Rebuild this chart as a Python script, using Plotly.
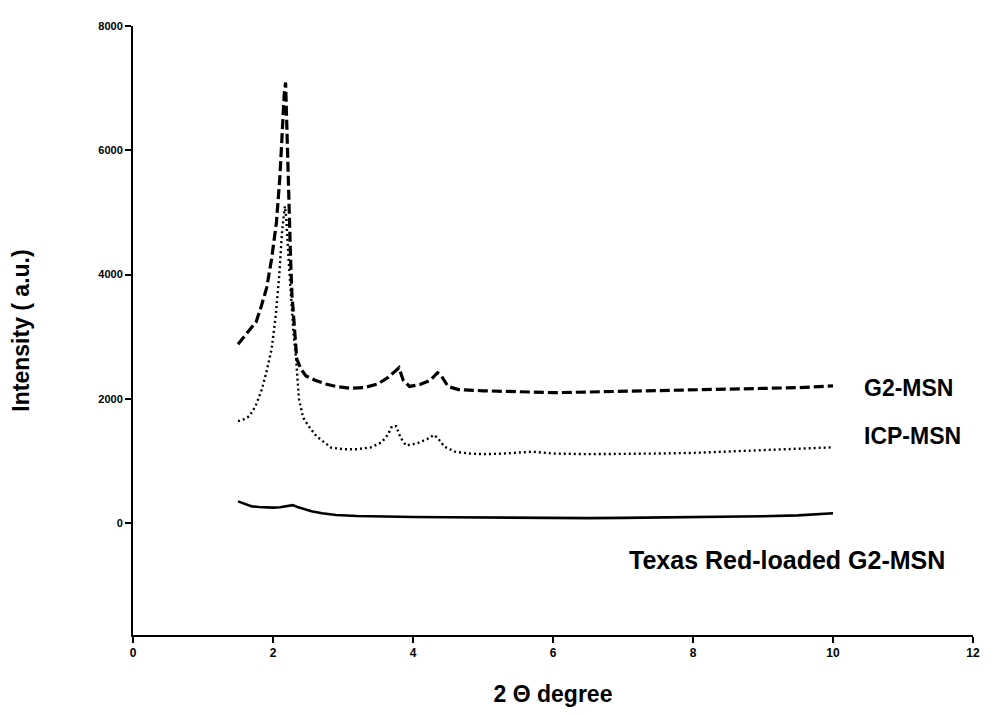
import plotly.graph_objects as go

# ---- data ----
g2_x = [1.50, 1.55, 1.62, 1.70, 1.76, 1.83, 1.91, 1.98, 2.05, 2.10, 2.13, 2.16, 2.18, 2.20, 2.22, 2.25, 2.27, 2.31, 2.34, 2.40, 2.47, 2.60, 2.75, 2.90, 3.10, 3.30, 3.50, 3.65, 3.75, 3.80, 3.86, 3.95, 4.10, 4.25, 4.35, 4.40, 4.50, 4.65, 5.00, 5.50, 6.00, 6.50, 7.00, 7.50, 8.00, 8.50, 9.00, 9.50, 10.00]
g2_y = [2880, 2950, 3060, 3170, 3240, 3480, 3790, 4250, 4850, 5600, 6310, 6900, 7090, 6300, 5200, 4300, 3690, 3000, 2640, 2480, 2370, 2300, 2240, 2200, 2170, 2180, 2240, 2350, 2450, 2500, 2300, 2200, 2230, 2300, 2420, 2380, 2200, 2150, 2130, 2120, 2100, 2110, 2120, 2130, 2140, 2150, 2160, 2180, 2210]

icp_x = [1.50, 1.58, 1.66, 1.75, 1.84, 1.91, 1.98, 2.04, 2.09, 2.13, 2.17, 2.19, 2.22, 2.25, 2.29, 2.33, 2.37, 2.43, 2.51, 2.62, 2.75, 2.83, 3.00, 3.20, 3.40, 3.55, 3.64, 3.70, 3.76, 3.82, 3.90, 4.05, 4.20, 4.30, 4.36, 4.45, 4.60, 4.80, 5.00, 5.30, 5.70, 6.00, 6.50, 7.00, 7.50, 8.00, 8.50, 9.00, 9.50, 10.00]
icp_y = [1640, 1670, 1720, 1880, 2150, 2450, 2800, 3350, 4000, 4700, 5100, 4900, 4300, 3700, 3100, 2640, 2000, 1700, 1560, 1400, 1290, 1215, 1190, 1190, 1220, 1300, 1420, 1560, 1560, 1380, 1250, 1280, 1350, 1420, 1360, 1230, 1150, 1120, 1110, 1120, 1150, 1120, 1110, 1110, 1120, 1130, 1150, 1170, 1190, 1220]

tr_x = [1.50, 1.55, 1.62, 1.70, 1.80, 1.90, 2.00, 2.10, 2.20, 2.28, 2.35, 2.45, 2.55, 2.70, 2.90, 3.20, 3.60, 4.00, 4.50, 5.00, 5.50, 6.00, 6.50, 7.00, 7.50, 8.00, 8.50, 9.00, 9.50, 10.00]
tr_y = [350, 330, 300, 270, 260, 250, 250, 255, 270, 290, 260, 220, 190, 160, 130, 115, 105, 100, 95, 90, 85, 75, 80, 85, 90, 95, 100, 110, 125, 160]

labels = ["G2-MSN", "ICP-MSN", "Texas Red-loaded G2-MSN"]
label_x = [10.41, 10.41, 7.05]
label_y = [2180, 1405, -585]
label_size = [23, 23, 25]

x_ticks = [0, 2, 4, 6, 8, 10, 12]
y_ticks = [0, 2000, 4000, 6000, 8000]

FONT = "Liberation Sans, Arial, sans-serif"

fig = go.Figure()
fig.add_trace(go.Scatter(x=g2_x, y=g2_y, mode="lines", name=labels[0],
                         line=dict(color="black", width=3.2, dash="10px,4px")))
fig.add_trace(go.Scatter(x=icp_x, y=icp_y, mode="lines", name=labels[1],
                         line=dict(color="black", width=2.4, dash="2px,3px")))
fig.add_trace(go.Scatter(x=tr_x, y=tr_y, mode="lines", name=labels[2],
                         line=dict(color="black", width=2.6)))

for t, xx, yy, sz in zip(labels, label_x, label_y, label_size):
    fig.add_annotation(x=xx, y=yy, text="<b>" + t + "</b>", showarrow=False,
                       xanchor="left", yanchor="middle",
                       font=dict(family=FONT, size=sz, color="black"))

fig.update_layout(
    width=984, height=707,
    margin=dict(l=125, r=12, t=12, b=74),
    paper_bgcolor="white", plot_bgcolor="white",
    showlegend=False,
    font=dict(family=FONT, color="black"),
)
fig.update_xaxes(range=[0, 12], tickvals=x_ticks, ticktext=["<b>%d</b>" % v for v in x_ticks],
                 showline=True, linecolor="black", linewidth=2,
                 ticks="outside", ticklen=6, tickwidth=1.5, tickcolor="black",
                 showgrid=False, zeroline=False,
                 tickfont=dict(family=FONT, size=12, color="black"),
                 title=dict(text="<b>2 \u0398 degree</b>", standoff=26,
                            font=dict(family=FONT, size=23, color="black")))
fig.update_yaxes(range=[-1800, 8000], tickvals=y_ticks, ticktext=["<b>%d</b>" % v for v in y_ticks],
                 showline=True, linecolor="black", linewidth=2,
                 ticks="outside", ticklen=6, tickwidth=1.5, tickcolor="black",
                 showgrid=False, zeroline=False,
                 tickfont=dict(family=FONT, size=11, color="black"),
                 title=dict(text="<b>Intensity ( a.u.)</b>", standoff=62,
                            font=dict(family=FONT, size=23, color="black")))

fig.write_html("out.html")
